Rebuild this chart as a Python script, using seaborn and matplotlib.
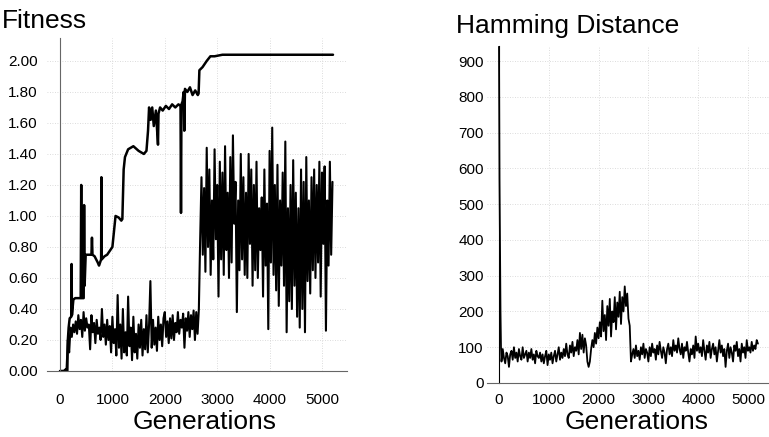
import matplotlib
matplotlib.use("Agg")
import matplotlib.pyplot as plt
import seaborn as sns

# ---- data ----
# best-of-generation fitness (upper step line)
best_gen = [0, 140, 150, 165, 185, 215, 221, 228, 255, 290,
            395, 405, 412, 452, 460, 470, 490, 600, 610, 620,
            660, 720, 745, 785, 790, 797, 850, 900, 960, 1000,
            1030, 1060, 1120, 1170, 1190, 1215, 1240, 1300, 1400, 1500,
            1600, 1650, 1680, 1700, 1730, 1760, 1790, 1830, 1870, 1880,
            1910, 1960, 2020, 2080, 2140, 2200, 2260, 2300, 2309, 2318,
            2340, 2360, 2372, 2385, 2430, 2480, 2530, 2580, 2630, 2645,
            2660, 2720, 2800, 2870, 2950, 3100, 3500, 4000, 4500, 5000,
            5210]
best_fit = [0.00, 0.00, 0.20, 0.28, 0.34, 0.35, 0.69, 0.36, 0.46, 0.47,
            0.47, 1.20, 0.47, 0.47, 1.07, 0.55, 0.75, 0.75, 0.86, 0.75,
            0.74, 0.70, 0.68, 0.72, 1.25, 0.72, 0.74, 0.75, 0.78, 0.80,
            0.90, 1.00, 0.99, 0.97, 0.98, 1.30, 1.38, 1.43, 1.45, 1.42,
            1.40, 1.42, 1.55, 1.70, 1.62, 1.70, 1.58, 1.68, 1.46, 1.66,
            1.70, 1.68, 1.71, 1.69, 1.72, 1.70, 1.72, 1.71, 1.02, 1.72,
            1.74, 1.80, 1.55, 1.82, 1.80, 1.83, 1.78, 1.81, 1.78, 1.79,
            1.94, 1.96, 2.00, 2.03, 2.03, 2.04, 2.04, 2.04, 2.04, 2.04,
            2.04]

# average fitness, one value every 25 generations (0 .. 5200)
avg_gen = list(range(0, 5201, 25))
avg_fit = [
    0.00, 0.00, 0.00, 0.00, 0.01, 0.01, 0.20, 0.12, 0.28, 0.22, 0.30, 0.25, 0.32, 0.24, 0.36, 0.27, 0.33, 0.22, 0.38, 0.26,
    0.34, 0.28, 0.30, 0.14, 0.36, 0.25, 0.31, 0.18, 0.33, 0.24, 0.28, 0.20, 0.40, 0.22, 0.30, 0.17, 0.33, 0.20, 0.29, 0.12,
    0.35, 0.18, 0.27, 0.10, 0.49, 0.15, 0.30, 0.08, 0.40, 0.12, 0.25, 0.10, 0.48, 0.16, 0.28, 0.07, 0.35, 0.12, 0.24, 0.08,
    0.30, 0.15, 0.33, 0.10, 0.27, 0.14, 0.36, 0.12, 0.30, 0.58, 0.15, 0.33, 0.17, 0.28, 0.13, 0.35, 0.20, 0.30, 0.16, 0.34,
    0.38, 0.22, 0.32, 0.18, 0.34, 0.21, 0.36, 0.20, 0.31, 0.25, 0.38, 0.24, 0.33, 0.28, 0.37, 0.15, 0.34, 0.26, 0.38, 0.22,
    0.36, 0.27, 0.39, 0.20, 0.38, 0.24, 0.40, 0.85, 1.25, 0.75, 1.18, 0.64, 1.44, 0.80, 1.30, 0.62, 1.10, 0.72, 1.43, 0.85,
    1.20, 0.48, 1.35, 0.72, 1.28, 0.62, 1.45, 0.78, 1.15, 0.60, 1.38, 0.70, 1.52, 0.95, 1.22, 0.38, 1.10, 0.65, 1.40, 0.72,
    1.25, 0.62, 1.15, 0.60, 1.40, 0.82, 1.30, 0.55, 1.20, 0.65, 1.35, 0.60, 1.05, 0.78, 1.12, 0.48, 1.30, 0.68, 1.08, 0.27,
    1.42, 0.70, 1.57, 0.62, 1.20, 0.52, 1.33, 0.42, 1.10, 0.68, 1.28, 0.55, 1.48, 0.25, 1.05, 0.45, 1.20, 0.40, 1.36, 0.55,
    1.15, 0.35, 1.05, 0.28, 1.30, 0.40, 1.22, 0.25, 1.38, 0.58, 1.10, 0.50, 1.25, 0.65, 1.30, 0.60, 1.20, 0.70, 1.35, 0.48,
    1.28, 0.82, 1.32, 0.26, 1.10, 0.68, 1.35, 0.75, 1.22,
]

# hamming distance: first generations, then every 25 generations (50 .. 5200)
ham_gen = [0, 10, 20, 30, 40] + list(range(50, 5201, 25))
ham_dist = [
    940, 570, 370, 200, 100,
    60, 95, 70, 55, 85, 75, 45, 80, 90, 65, 100, 70, 85, 60, 95, 75, 65, 100, 70, 80,
    90, 60, 85, 70, 95, 65, 80, 55, 90, 75, 70, 85, 60, 80, 55, 75, 90, 50, 80, 65,
    85, 55, 75, 90, 60, 80, 100, 65, 85, 70, 95, 75, 110, 80, 70, 105, 85, 115, 75, 100,
    90, 120, 80, 140, 95, 135, 85, 125, 105, 60, 45, 60, 95, 120, 100, 140, 110, 155, 125, 170,
    130, 230, 145, 190, 120, 215, 160, 235, 130, 200, 170, 240, 150, 225, 185, 255, 165, 240, 200, 270,
    215, 250, 180, 160, 60, 80, 95, 70, 105, 75, 90, 65, 100, 80, 110, 70, 95, 85, 60, 100,
    75, 110, 85, 95, 65, 105, 80, 115, 90, 70, 100, 85, 55, 95, 110, 80, 100, 75, 120, 90,
    105, 85, 125, 95, 80, 110, 70, 100, 90, 115, 85, 60, 95, 80, 105, 70, 130, 90, 110, 85,
    100, 75, 120, 90, 65, 105, 85, 115, 70, 95, 110, 80, 100, 60, 90, 120, 85, 105, 75, 95,
    45, 90, 110, 70, 100, 85, 60, 105, 90, 115, 75, 95, 60, 110, 85, 100, 70, 120, 90, 100,
    85, 115, 90, 105, 95, 120, 110,
]

fit_ticks = [0.0, 0.2, 0.4, 0.6, 0.8, 1.0, 1.2, 1.4, 1.6, 1.8, 2.0]
ham_ticks = [0, 100, 200, 300, 400, 500, 600, 700, 800, 900]
gen_ticks = [0, 1000, 2000, 3000, 4000, 5000]

# ---- figure ----
sns.set_style("white")
plt.rcParams['font.family'] = ['Liberation Sans', 'DejaVu Sans']
plt.rcParams['text.color'] = 'black'

fig = plt.figure(figsize=(7.69, 4.37), dpi=100)
ax1 = fig.add_axes([47 / 769, 66 / 437, 300 / 769, 333 / 437])
ax2 = fig.add_axes([487 / 769, 54 / 437, 282 / 769, 337 / 437])

sns.lineplot(x=avg_gen, y=avg_fit, ax=ax1, color='black', linewidth=1.5, estimator=None, sort=False)
sns.lineplot(x=best_gen, y=best_fit, ax=ax1, color='black', linewidth=1.8, estimator=None, sort=False)
sns.lineplot(x=ham_gen, y=ham_dist, ax=ax2, color='black', linewidth=1.3, estimator=None, sort=False)

ax1.set_xlim(-248, 5477)
ax1.set_ylim(0, 2.148)
ax1.set_yticks(fit_ticks)
ax1.set_yticklabels([f"{v:.2f}" for v in fit_ticks])

ax2.set_xlim(-241, 5422)
ax2.set_ylim(0, 942)
ax2.set_yticks(ham_ticks)
ax2.set_yticklabels([str(v) for v in ham_ticks])

for ax, ypad, xpad in [(ax1, 16, 16), (ax2, 11, 7)]:
    ax.set_xticks(gen_ticks)
    ax.set_xticklabels([str(v) for v in gen_ticks])
    ax.tick_params(axis='y', length=0, pad=ypad, labelsize=11, labelcolor='black')
    ax.tick_params(axis='x', length=0, pad=xpad, labelsize=11, labelcolor='black')
    ax.grid(True, color='#d0d0d0', linestyle=(0, (1, 2)), linewidth=0.6)
    ax.spines['top'].set_visible(False)
    ax.spines['right'].set_visible(False)
    ax.spines['left'].set_position(('data', 0))
    ax.spines['left'].set_color('#666666')
    ax.spines['bottom'].set_color('#666666')
    ax.set_xlabel("")
    ax.set_ylabel("")

ax2.spines['left'].set_color('black')

fig.text(2 / 769, 1 - 28 / 437, "Fitness", fontsize=19, ha='left', va='baseline', color='black')
fig.text(456 / 769, 1 - 33 / 437, "Hamming Distance", fontsize=19, ha='left', va='baseline', color='black')
fig.text(205 / 769, 1 - 429 / 437, "Generations", fontsize=19, ha='center', va='baseline', color='black')
fig.text(637 / 769, 1 - 429 / 437, "Generations", fontsize=19, ha='center', va='baseline', color='black')

plt.savefig("out.png", dpi=100)
